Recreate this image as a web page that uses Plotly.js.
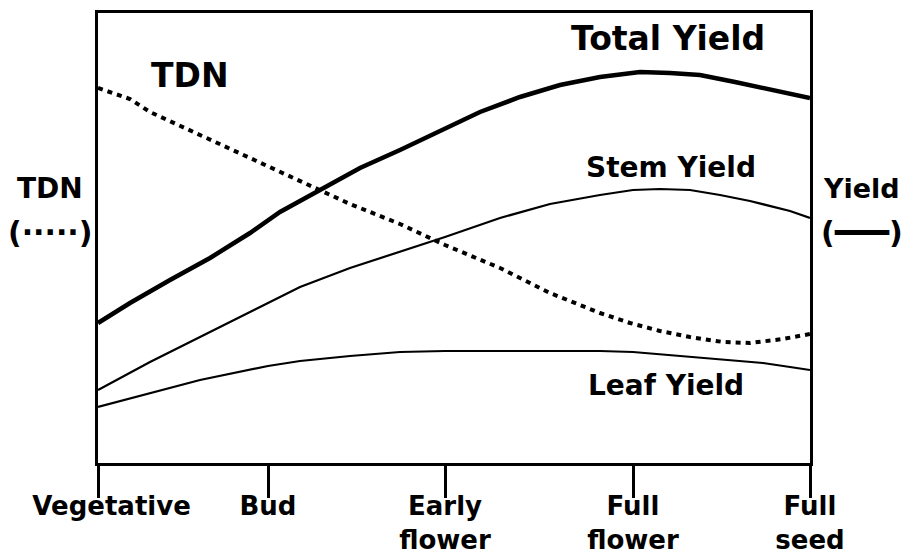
<!DOCTYPE html>
<html>
<head>
<meta charset="utf-8">
<script src="https://cdn.plot.ly/plotly-3.0.1.min.js"></script>
<style>html,body{margin:0;padding:0;background:#fff;}#chart{width:903px;height:556px;}</style>
</head>
<body>
<div id="chart"></div>
<script>
// Growth stage positions (relative units along the season) and labels
const stageTicks = [0, 170, 347, 535, 712];
const stageLabels = ["\u00a0\u00a0\u00a0Vegetative", "Bud", "Early<br>flower", "Full<br>flower", "Full<br>seed"];

// Total yield (thick solid)
const totalX = [0,32,72,112,152,182,222,262,302,347,382,422,462,502,542,572,602,637,672,697,712];
const totalY = [140,160,183,205,230,251,273,295,313,335,351,366,378,386,391,390,388,381,373,368,365];

// Stem yield (thin solid)
const stemX = [0,52,102,170,202,252,302,347,402,452,502,535,562,592,622,652,692,712];
const stemY = [73,101,126,160,176,195,211,226,245,259,268,273,274,273,268,262,252,245];

// Leaf yield (thin solid)
const leafX = [0,52,102,170,202,252,302,347,402,452,502,535,572,619,665,692,712];
const leafY = [56,70,83,97,102,107,111,112,112,112,112,111,108,104,100,96,93];

// TDN (dotted)
const tdnX = [0,32,52,102,152,202,252,302,347,402,452,502,532,562,592,625,652,685,712];
const tdnY = [375,364,351,328,305,283,259,239,218,195,170,150,140,132,126,121,120,124,129];

const F = "DejaVu Sans, Verdana, sans-serif";

const traces = [
  {x: totalX, y: totalY, mode: "lines", line: {color: "#000", width: 4.5}, hoverinfo: "skip"},
  {x: stemX, y: stemY, mode: "lines", line: {color: "#000", width: 2.2}, hoverinfo: "skip"},
  {x: leafX, y: leafY, mode: "lines", line: {color: "#000", width: 2.2}, hoverinfo: "skip"},
  {x: tdnX, y: tdnY, mode: "lines", line: {color: "#000", width: 4, dash: "5px,5px"}, hoverinfo: "skip"}
];

function ann(text, x, y, size) {
  return {text: "<b>" + text + "</b>", xref: "paper", yref: "paper", x: x, y: y,
    xanchor: "center", yanchor: "middle", showarrow: false,
    font: {family: F, size: size, color: "#000"}};
}

const layout = {
  width: 903, height: 556,
  margin: {l: 98, r: 93, t: 13, b: 93},
  paper_bgcolor: "#fff", plot_bgcolor: "#fff",
  showlegend: false,
  xaxis: {
    range: [0, 712], tickmode: "array", tickvals: stageTicks,
    ticktext: stageLabels.map(s => "<b>" + s.replace("<br>", "</b><br><b>") + "</b>"),
    ticks: "outside", ticklen: 32, tickwidth: 3, tickcolor: "#000",
    ticklabelstandoff: -14,
    showline: true, linewidth: 3, linecolor: "#000", mirror: true,
    showgrid: false, zeroline: false,
    tickfont: {family: F, size: 26, color: "#000"}
  },
  yaxis: {
    range: [0, 450], showticklabels: false, ticks: "",
    showline: true, linewidth: 3, linecolor: "#000", mirror: true,
    showgrid: false, zeroline: false
  },
  annotations: [
    ann("Total Yield", 0.80, 0.944, 33),
    ann("TDN", 0.129, 0.862, 33),
    ann("Stem Yield", 0.805, 0.656, 28),
    ann("Leaf Yield", 0.798, 0.173, 28),
    ann("TDN", -0.067, 0.611, 28),
    ann("(·····)", -0.067, 0.513, 30),
    ann("Yield", 1.073, 0.611, 27),
    ann("(━━━)", 1.073, 0.513, 30)
  ]
};

Plotly.newPlot("chart", traces, layout, {staticPlot: true, displayModeBar: false});
</script>
</body>
</html>
